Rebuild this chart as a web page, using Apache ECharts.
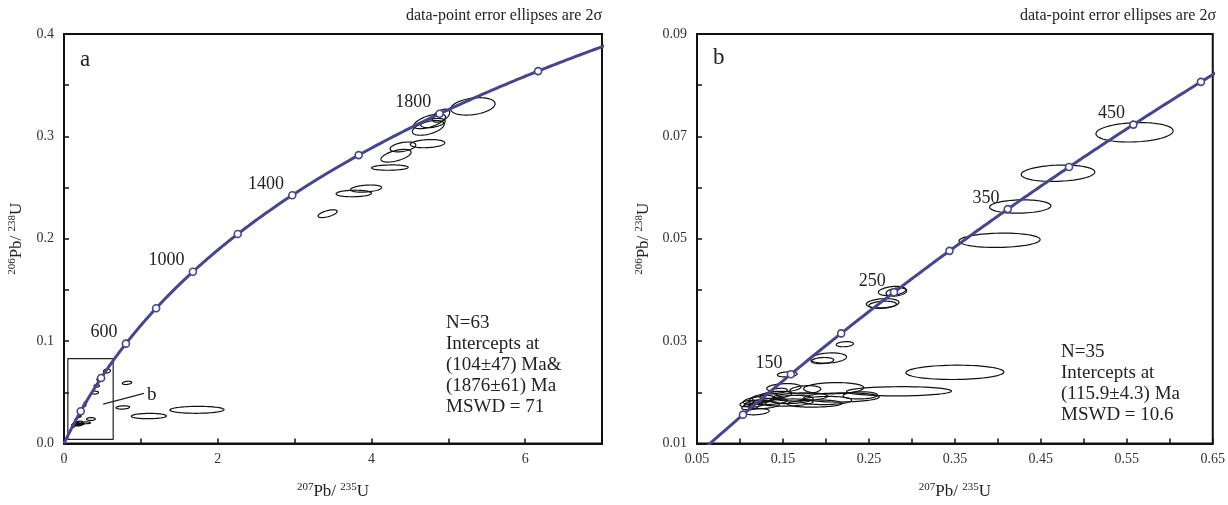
<!DOCTYPE html>
<html><head><meta charset="utf-8">
<script src="https://cdn.jsdelivr.net/npm/echarts@6/dist/echarts.min.js"></script>
<style>html,body{margin:0;padding:0;background:#fff}#c{width:1228px;height:505px}</style>
</head><body><div id="c"></div>
<script>
const FONT = '"Liberation Serif","Times New Roman",serif';
const CURVE = '#46468e';
const INK = '#222';

// U-Pb decay constants (per year)
const L238 = 1.55125e-10, L235 = 9.8485e-10;

// Panel a axes
const xRangeA = [0, 7];
const yRangeA = [0, 0.4];
// Panel b axes
const xRangeB = [0.05, 0.65];
const yRangeB = [0.01, 0.09];

// concordia age marks (Ma)
const markerAgesA = [200, 400, 600, 800, 1000, 1200, 1400, 1600, 1800, 2000];
const labelAgesA = [600, 1000, 1400, 1800];
const markerAgesB = [100, 150, 200, 250, 300, 350, 400, 450, 500];
const labelAgesB = [150, 250, 350, 450];

// error ellipses: [207Pb/235U, 206Pb/238U, half-width x, half-height y, rho]
const ellipsesB = [
  [0.559, 0.0708, 0.0449, 0.0019, 0.15],
  [0.470, 0.0628, 0.0428, 0.0016, 0.15],
  [0.426, 0.0563, 0.0357, 0.0013, 0.10],
  [0.402, 0.0497, 0.0472, 0.0014, 0.10],
  [0.277, 0.0398, 0.0160, 0.0009, 0.30],
  [0.282, 0.0396, 0.0120, 0.0008, 0.30],
  [0.266, 0.0374, 0.0190, 0.0009, 0.20],
  [0.266, 0.0371, 0.0160, 0.0007, 0.20],
  [0.222, 0.0294, 0.0100, 0.0005, 0.20],
  [0.203, 0.0267, 0.0210, 0.0010, 0.20],
  [0.196, 0.0262, 0.0130, 0.0006, 0.20],
  [0.155, 0.0235, 0.0115, 0.0005, 0.20],
  [0.350, 0.0239, 0.0570, 0.0014, 0.05],
  [0.285, 0.0202, 0.0610, 0.0009, 0.05],
  [0.151, 0.0209, 0.0200, 0.0008, 0.20],
  [0.209, 0.0208, 0.0350, 0.0011, 0.10],
  [0.145, 0.0203, 0.0100, 0.0005, 0.30],
  [0.176, 0.0205, 0.0180, 0.0008, 0.20],
  [0.240, 0.0194, 0.0200, 0.0007, 0.10],
  [0.218, 0.0190, 0.0440, 0.0009, 0.10],
  [0.170, 0.0191, 0.0320, 0.0008, 0.20],
  [0.187, 0.0178, 0.0320, 0.0007, 0.10],
  [0.155, 0.0180, 0.0300, 0.0007, 0.20],
  [0.125, 0.0186, 0.0150, 0.0008, 0.40],
  [0.118, 0.0178, 0.0130, 0.0007, 0.40],
  [0.130, 0.0190, 0.0160, 0.0007, 0.30],
  [0.112, 0.0172, 0.0100, 0.0006, 0.40],
  [0.120, 0.0162, 0.0140, 0.0006, 0.30],
  [0.135, 0.0182, 0.0200, 0.0006, 0.30],
  [0.115, 0.0184, 0.0110, 0.0007, 0.50],
  [0.200, 0.0184, 0.0300, 0.0008, 0.10],
  [0.160, 0.0186, 0.0250, 0.0008, 0.20],
  [0.128, 0.0175, 0.0180, 0.0007, 0.30],
  [0.108, 0.0178, 0.0080, 0.0006, 0.40],
  [0.142, 0.0195, 0.0180, 0.0007, 0.30]
];
const ellipsesAOnly = [
  [5.32, 0.3293, 0.289, 0.0085, 0.30],
  [4.905, 0.3202, 0.113, 0.0064, 0.50],
  [4.757, 0.3147, 0.207, 0.0072, 0.60],
  [4.74, 0.3083, 0.207, 0.0072, 0.50],
  [4.80, 0.3130, 0.160, 0.0045, 0.40],
  [4.73, 0.2929, 0.224, 0.0040, 0.20],
  [4.41, 0.2897, 0.167, 0.0048, 0.40],
  [4.32, 0.2811, 0.196, 0.0062, 0.55],
  [4.24, 0.2695, 0.239, 0.0026, 0.10],
  [3.93, 0.2490, 0.202, 0.0035, 0.30],
  [3.77, 0.2442, 0.230, 0.0032, 0.10],
  [3.43, 0.2245, 0.124, 0.0038, 0.60],
  [0.82, 0.0592, 0.061, 0.0016, 0.30],
  [0.765, 0.0352, 0.089, 0.0016, 0.20],
  [1.104, 0.0268, 0.228, 0.0026, 0.05],
  [1.73, 0.0329, 0.352, 0.0034, 0.05]
];
const ellipsesA = ellipsesAOnly.concat(ellipsesB);

// inset frame (panel b region) and pointer in panel a
const insetBox = [[0.05, 0.004], [0.64, 0.004], [0.64, 0.083], [0.05, 0.083], [0.05, 0.004]];
const insetPointer = [[0.51, 0.0385], [1.04, 0.049]];

const textA = ['N=63', 'Intercepts at', '(104±47) Ma&', '(1876±61) Ma', 'MSWD = 71'];
const textB = ['N=35', 'Intercepts at', '(115.9±4.3) Ma', 'MSWD = 10.6'];

function concordia(tMa) {
  const t = tMa * 1e6;
  return [Math.exp(L235 * t) - 1, Math.exp(L238 * t) - 1];
}
function curve(t0, t1, step) {
  const out = [];
  for (let t = t0; t <= t1; t += step) out.push(concordia(t));
  return out;
}

function ellipseSeries(data, gi) {
  return {
    type: 'custom', xAxisIndex: gi, yAxisIndex: gi, clip: true, silent: true,
    data: data, encode: { x: 0, y: 1 },
    renderItem: function (params, api) {
      const cx = api.value(0), cy = api.value(1), sx = api.value(2), sy = api.value(3), r = api.value(4);
      const k = Math.sqrt(1 - r * r);
      const pts = [];
      for (let i = 0; i <= 72; i++) {
        const a = i / 72 * Math.PI * 2;
        pts.push(api.coord([cx + sx * Math.cos(a), cy + sy * (r * Math.cos(a) + k * Math.sin(a))]));
      }
      return { type: 'polygon', shape: { points: pts }, style: { fill: 'none', stroke: '#111', lineWidth: 1.2 } };
    },
    z: 3
  };
}

function markerSeries(ages, labels, gi) {
  return {
    type: 'scatter', xAxisIndex: gi, yAxisIndex: gi, silent: true,
    symbol: 'circle', symbolSize: 7,
    itemStyle: { color: '#fff', borderColor: CURVE, borderWidth: 1.6, opacity: 1 },
    data: ages.map(a => ({ value: concordia(a), age: a })),
    label: {
      show: true, position: 'left', distance: 3, offset: [-1, -11],
      fontFamily: FONT, fontSize: 18, color: INK,
      formatter: p => labels.indexOf(p.data.age) >= 0 ? String(p.data.age) : ''
    },
    z: 5
  };
}

const supRich = { s: { fontSize: 11, fontFamily: FONT, color: INK, padding: [0, 0, 9, 0] }, m: { fontSize: 17, fontFamily: FONT, color: INK } };
const xName = '{s|207}{m|Pb/ }{s|235}{m|U}';
const yName = '{s|206}{m|Pb/ }{s|238}{m|U}';

function xAxisCfg(gi, range, interval, fmt) {
  return {
    type: 'value', gridIndex: gi, min: range[0], max: range[1], interval: interval,
    name: xName, nameLocation: 'middle', nameGap: 38, nameTextStyle: { rich: supRich },
    axisLine: { show: true, lineStyle: { color: '#111', width: 2 } },
    axisTick: { show: true, inside: true, length: 5, lineStyle: { color: '#111', width: 1.5 } },
    axisLabel: { fontFamily: FONT, fontSize: 14, color: '#333', margin: 9, formatter: fmt, showMinLabel: true, showMaxLabel: true },
    splitLine: { show: false }
  };
}
function yAxisCfg(gi, range, interval, fmt, gap) {
  return {
    type: 'value', gridIndex: gi, min: range[0], max: range[1], interval: interval,
    name: yName, nameLocation: 'middle', nameGap: gap, nameRotate: 90, nameTextStyle: { rich: supRich },
    axisLine: { show: true, lineStyle: { color: '#111', width: 2 } },
    axisTick: { show: true, inside: true, length: 5, lineStyle: { color: '#111', width: 1.5 } },
    axisLabel: { fontFamily: FONT, fontSize: 14, color: '#333', margin: 10, formatter: fmt },
    splitLine: { show: false }
  };
}

function textBlock(lines, left, top) {
  return {
    type: 'text', left: left, top: top, silent: true,
    style: { text: lines.join('\n'), fontFamily: FONT, fontSize: 19, lineHeight: 21, fill: INK }
  };
}

const chart = echarts.init(document.getElementById('c'), null, { renderer: 'canvas' });
chart.setOption({
  backgroundColor: '#fff',
  animation: false,
  grid: [
    { left: 64, top: 34, width: 538, height: 416, show: true, borderColor: '#111', borderWidth: 2, backgroundColor: 'transparent' },
    { left: 697, top: 34, width: 519, height: 416, show: true, borderColor: '#111', borderWidth: 2, backgroundColor: 'transparent' }
  ],
  xAxis: [
    xAxisCfg(0, xRangeA, 1, v => (Math.round(v) % 2 === 0 ? String(Math.round(v)) : '')),
    xAxisCfg(1, xRangeB, 0.05, v => (Math.round(v * 100) % 10 === 5 ? v.toFixed(2) : ''))
  ],
  yAxis: [
    yAxisCfg(0, yRangeA, 0.05, v => (Math.round(v * 100) % 10 === 0 ? v.toFixed(1) : ''), 37),
    yAxisCfg(1, yRangeB, 0.01, v => (Math.round(v * 100) % 2 === 1 ? v.toFixed(2) : ''), 43)
  ],
  graphic: [
    { type: 'text', right: 1228 - 602, top: 8, style: { text: 'data-point error ellipses are 2σ', fontFamily: FONT, fontSize: 16, fill: INK } },
    { type: 'text', right: 1228 - 1216, top: 8, style: { text: 'data-point error ellipses are 2σ', fontFamily: FONT, fontSize: 16, fill: INK } },
    { type: 'text', left: 80, top: 48, style: { text: 'a', fontFamily: FONT, fontSize: 23, fill: INK } },
    { type: 'text', left: 713, top: 46, style: { text: 'b', fontFamily: FONT, fontSize: 23, fill: INK } },
    { type: 'text', left: 147, top: 386, style: { text: 'b', fontFamily: FONT, fontSize: 19, fill: INK } },
    textBlock(textA, 446, 313),
    textBlock(textB, 1061, 342)
  ],
  series: [
    { type: 'line', xAxisIndex: 0, yAxisIndex: 0, data: curve(0, 2200, 5), showSymbol: false, silent: true,
      lineStyle: { color: CURVE, width: 3 }, z: 4 },
    { type: 'line', xAxisIndex: 1, yAxisIndex: 1, data: curve(40, 560, 2), showSymbol: false, silent: true,
      lineStyle: { color: CURVE, width: 3 }, z: 4 },
    ellipseSeries(ellipsesA, 0),
    ellipseSeries(ellipsesB, 1),
    markerSeries(markerAgesA, labelAgesA, 0),
    markerSeries(markerAgesB, labelAgesB, 1),
    { type: 'line', xAxisIndex: 0, yAxisIndex: 0, data: insetBox, showSymbol: false, silent: true,
      lineStyle: { color: '#222', width: 1.2 }, z: 2 },
    { type: 'line', xAxisIndex: 0, yAxisIndex: 0, data: insetPointer, showSymbol: false, silent: true,
      lineStyle: { color: '#222', width: 1.2 }, z: 2 }
  ]
});
</script>
</body></html>
